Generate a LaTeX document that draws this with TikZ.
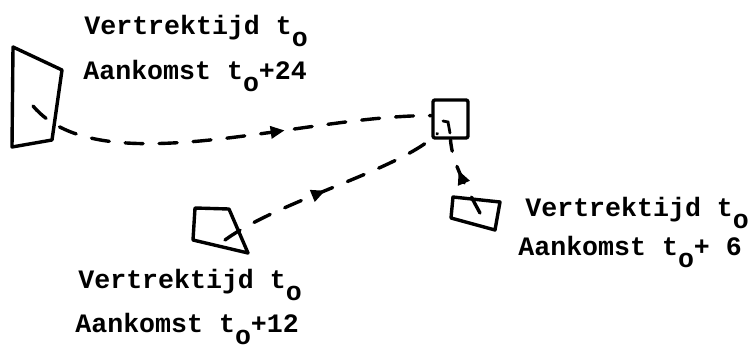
\documentclass[tikz,border=0pt]{standalone}
\usepackage{fontspec}
\setmonofont{Liberation Mono}
\usetikzlibrary{arrows.meta,decorations.markings,calc}

% typewriter-style lowered "o" used as a subscript
\newcommand{\lowo}{\raisebox{-6pt}{o}}

\begin{document}
\begin{tikzpicture}[x=0.5pt,y=0.5pt,
  outline/.style={line width=1.7pt, line join=round},
  route/.style={line width=1.7pt, line cap=round, dash pattern=on 9pt off 8pt},
  tipat/.style={postaction={decorate},
    decoration={markings, mark=at position #1 with {\arrow{Triangle[length=7pt,width=6pt]}}}},
  lbl/.style={anchor=base west, inner sep=0pt,
    font=\ttfamily\bfseries\fontsize{13.3}{16}\selectfont}]
\useasboundingbox (0,0) rectangle (751,-349);

% stations
\draw[outline] (13,-47) -- (62,-70) -- (52,-140) -- (12,-147) -- cycle;
\draw[outline] (195,-208) -- (229,-209) -- (248,-253) -- (193,-240) -- cycle;
\draw[outline] (453,-197) -- (500,-202) -- (495,-230) -- (451,-218) -- cycle;
\node[draw, outline, rectangle, rounded corners=1pt, minimum width=17.5pt,
      minimum height=19pt, inner sep=0pt] (hub) at (450.5,-119) {};
\draw[line width=1.4pt, line cap=round] (443,-121) -- (448,-122) -- (450,-133);

% departure points
\coordinate (s1) at (33,-106);
\coordinate (s2) at (225,-240);
\coordinate (s3) at (480,-213);

% routes
\draw[route, tipat=0.64] (s1) .. controls (100,-185) and (300,-115) .. (hub.170);
\draw[route, tipat=0.47] (s2) .. controls (280,-200) and (400,-170) .. ($(hub.south west)+(6,6)$);
\draw[route, tipat=0.6] (s3) .. controls (462,-180) and (452,-160) .. (hub.south);

% timetable labels
\node[lbl] (l1a) at (84,-34) {Vertrektijd t\lowo};
\node[lbl] (l1b) at (83,-79) {Aankomst t\lowo+24};
\node[lbl] (l2a) at (78,-288) {Vertrektijd t\lowo};
\node[lbl] (l2b) at (75,-332) {Aankomst t\lowo+12};
\node[lbl] (l3a) at (525,-216) {Vertrektijd t\lowo};
\node[lbl] (l3b) at (518,-255) {Aankomst t\lowo+ 6};
\end{tikzpicture}
\end{document}
